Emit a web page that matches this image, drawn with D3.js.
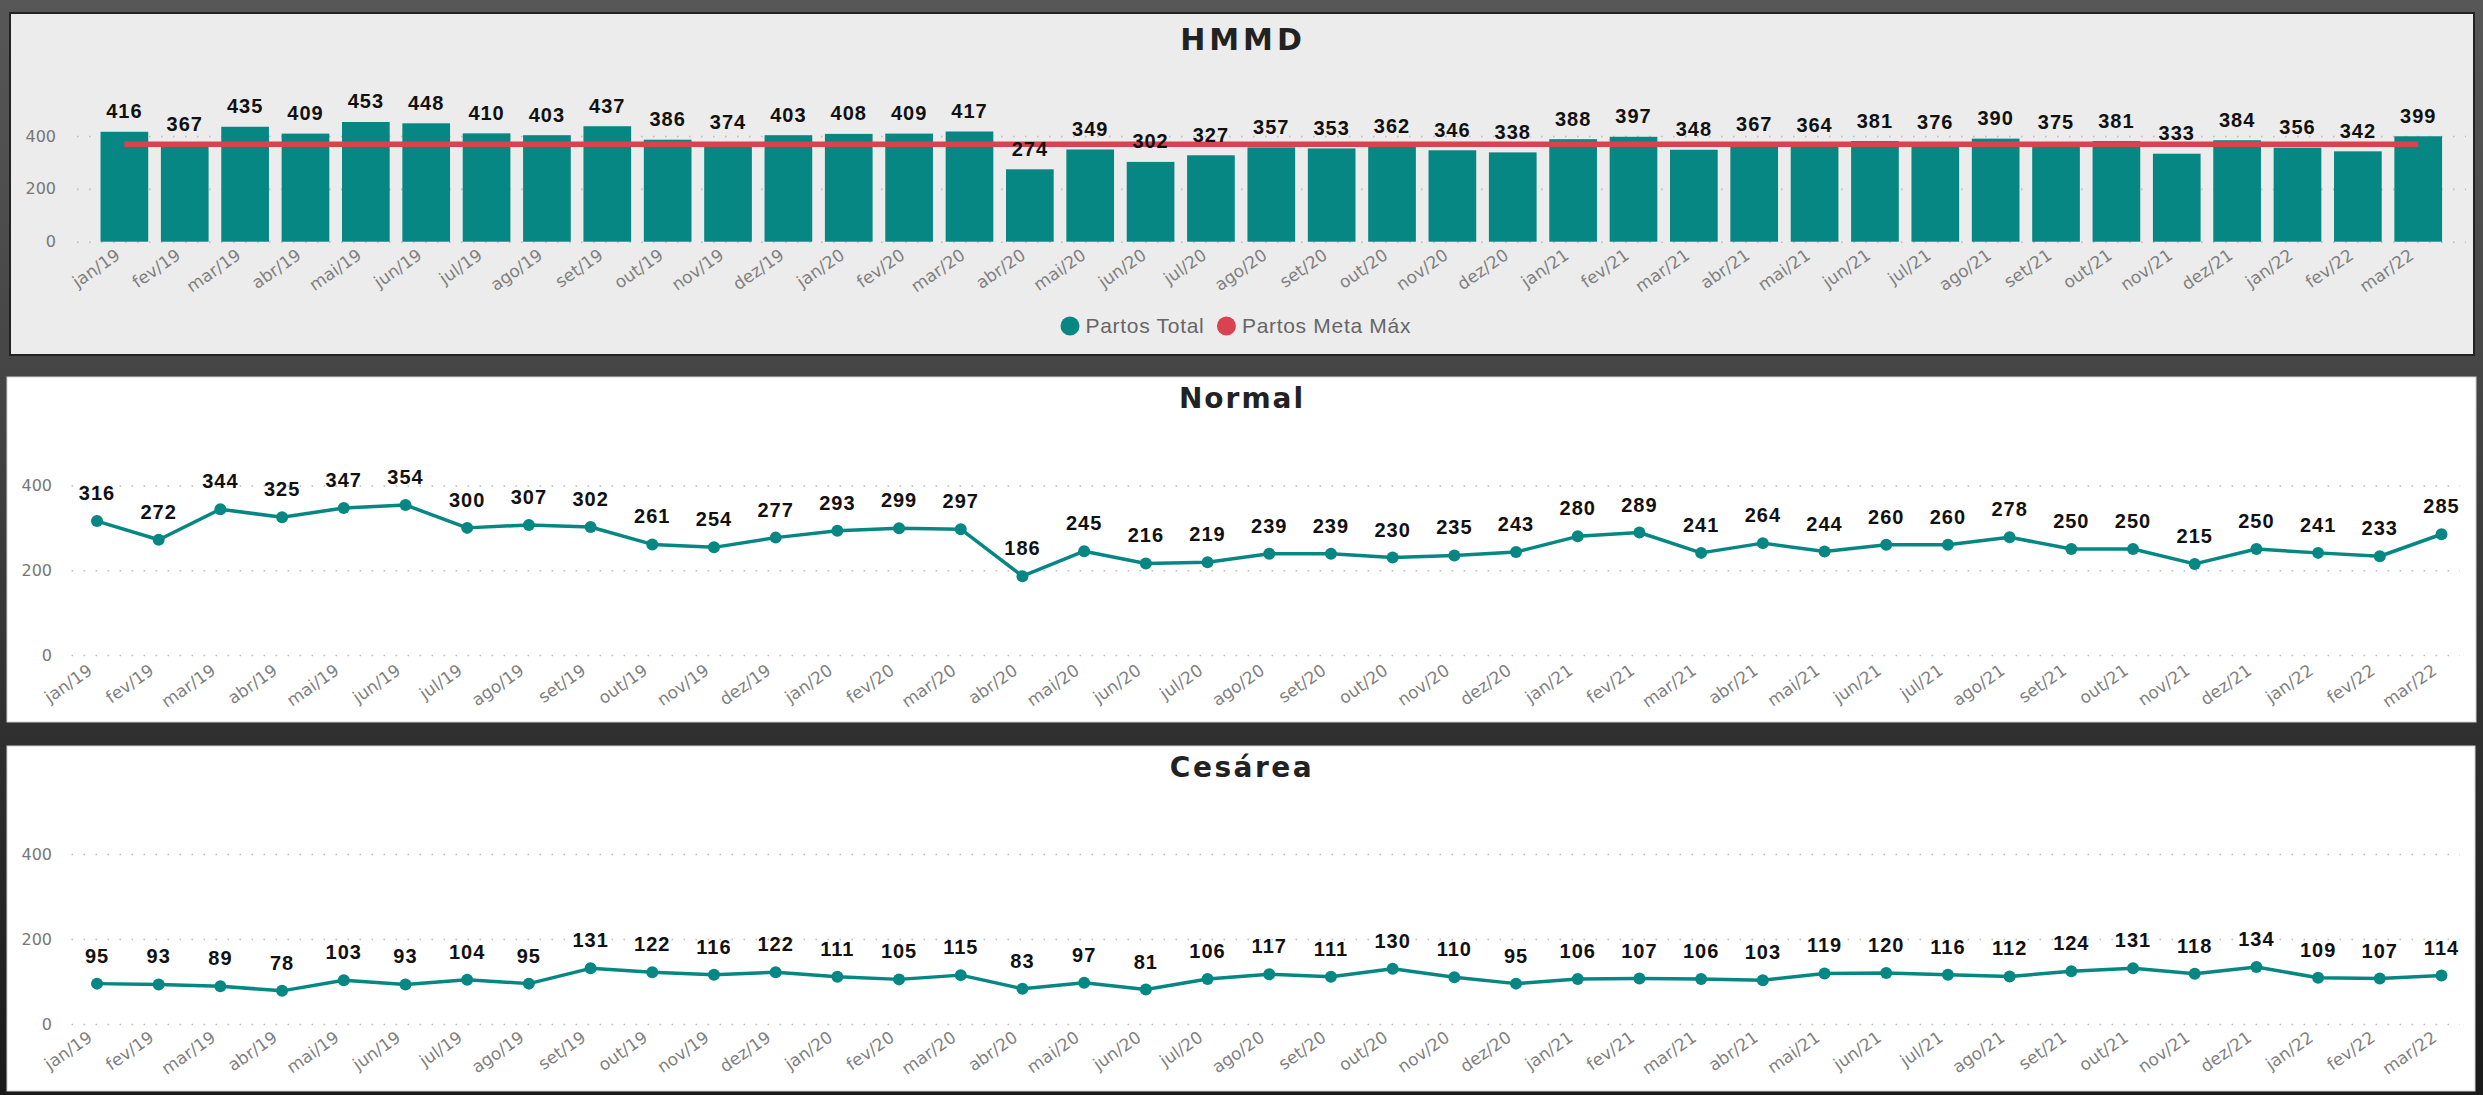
<!DOCTYPE html>
<html>
<head>
<meta charset="utf-8">
<script src="https://cdn.jsdelivr.net/npm/d3@7"></script>
<style>
  html, body { margin: 0; padding: 0; background: #2e2e2e; }
  svg { display: block; }
</style>
</head>
<body>
<script>
// ---------------- DATA ----------------
const months = ["jan/19","fev/19","mar/19","abr/19","mai/19","jun/19","jul/19","ago/19","set/19","out/19","nov/19","dez/19",
                "jan/20","fev/20","mar/20","abr/20","mai/20","jun/20","jul/20","ago/20","set/20","out/20","nov/20","dez/20",
                "jan/21","fev/21","mar/21","abr/21","mai/21","jun/21","jul/21","ago/21","set/21","out/21","nov/21","dez/21",
                "jan/22","fev/22","mar/22"];
const partosTotal = [416,367,435,409,453,448,410,403,437,386,374,403,
                     408,409,417,274,349,302,327,357,353,362,346,338,
                     388,397,348,367,364,381,376,390,375,381,333,384,
                     356,342,399];
const partosMetaMax = [369,369,369,369,369,369,369,369,369,369,369,369,
                       369,369,369,369,369,369,369,369,369,369,369,369,
                       369,369,369,369,369,369,369,369,369,369,369,369,
                       369,369,369];
const partosNormal = [316,272,344,325,347,354,300,307,302,261,254,277,
                      293,299,297,186,245,216,219,239,239,230,235,243,
                      280,289,241,264,244,260,260,278,250,250,215,250,
                      241,233,285];
const partosCesarea = [95,93,89,78,103,93,104,95,131,122,116,122,
                       111,105,115,83,97,81,106,117,111,130,110,95,
                       106,107,106,103,119,120,116,112,124,131,118,134,
                       109,107,114];
const yTicks = [0, 200, 400];
const titles = ["HMMD", "Normal", "Cesárea"];
const legendLabels = ["Partos Total", "Partos Meta Máx"];

// ---------------- STYLE ----------------
const TEAL = "#078783";
const RED = "#d9434f";
const AXIS_FONT = "DejaVu Sans";
const LABEL_FONT = "Liberation Sans";

const W = 2483, H = 1095;
const svg = d3.select("body").append("svg").attr("width", W).attr("height", H);

const defs = svg.append("defs");
const grad = defs.append("linearGradient").attr("id", "bg").attr("x1", 0).attr("y1", 0).attr("x2", 0).attr("y2", 1);
[[0, "#575757"], [0.35, "#454545"], [0.68, "#2f2f2f"], [1, "#1a1a1a"]].forEach(([o, c]) =>
  grad.append("stop").attr("offset", o).attr("stop-color", c));
svg.append("rect").attr("width", W).attr("height", H).attr("fill", "url(#bg)");

// panels
svg.append("rect").attr("x", 10).attr("y", 13).attr("width", 2464).attr("height", 342)
  .attr("fill", "#ececec").attr("stroke", "#222").attr("stroke-width", 2);
svg.append("rect").attr("x", 7).attr("y", 377).attr("width", 2469).attr("height", 345)
  .attr("fill", "#ffffff").attr("stroke", "#cfcfcf").attr("stroke-width", 1);
svg.append("rect").attr("x", 7).attr("y", 746).attr("width", 2468).attr("height", 345)
  .attr("fill", "#ffffff").attr("stroke", "#cfcfcf").attr("stroke-width", 1);

function title(text, cx, baseline, size, spacing) {
  svg.append("text").attr("x", cx).attr("y", baseline)
    .attr("text-anchor", "middle")
    .attr("font-family", AXIS_FONT).attr("font-weight", "bold")
    .attr("font-size", size).attr("letter-spacing", spacing)
    .attr("fill", "#222").text(text);
}

function gridAxis(y, gx0, gx1, pad) {
  const g = svg.append("g").attr("transform", `translate(${gx0},0)`)
    .call(d3.axisLeft(y).tickValues(yTicks).tickSize(-(gx1 - gx0)).tickPadding(pad).tickFormat(d3.format("d")));
  g.select(".domain").remove();
  g.selectAll(".tick line").attr("stroke", "#bdbdbd").attr("stroke-width", 1.6).attr("stroke-dasharray", "1.6,10.4");
  g.selectAll(".tick text").attr("font-family", AXIS_FONT).attr("font-size", 16).attr("fill", "#777");
}

function xAxis(x, y0, dx, dy) {
  const g = svg.append("g").attr("transform", `translate(0,${y0})`)
    .call(d3.axisBottom(x).tickSize(0).tickPadding(0));
  g.select(".domain").remove();
  g.selectAll(".tick text")
    .attr("y", 0).attr("dy", 0)
    .attr("transform", `translate(${dx},${dy}) rotate(-35)`)
    .attr("text-anchor", "end")
    .attr("font-family", AXIS_FONT).attr("font-size", 17).attr("fill", "#7f7f7f");
}

function valueLabels(data, xf, yf, off) {
  svg.append("g").selectAll("text").data(data).join("text")
    .attr("x", (d, i) => xf(i))
    .attr("y", d => yf(d) - off)
    .attr("text-anchor", "middle")
    .attr("font-family", LABEL_FONT).attr("font-weight", "bold")
    .attr("font-size", 20).attr("letter-spacing", 1)
    .attr("fill", "#111").text(d => d);
}

// ---------------- PANEL 1 : HMMD (bars + meta line) ----------------
{
  const y = d3.scaleLinear().domain([0, 400]).range([241.7, 136]);
  const x = d3.scaleBand().domain(months).range([94.2, 2448.4]).paddingInner(0.21).paddingOuter(0.105);
  title(titles[0], 1243, 50, 30, 4);
  gridAxis(y, 77, 2466, 21);
  svg.append("g").selectAll("rect").data(partosTotal).join("rect")
    .attr("x", (d, i) => x(months[i]))
    .attr("y", d => y(d))
    .attr("width", x.bandwidth())
    .attr("height", d => y(0) - y(d))
    .attr("fill", TEAL);
  const line = d3.line().x((d, i) => x(months[i]) + x.bandwidth() / 2).y(d => y(d));
  svg.append("path").datum(partosMetaMax).attr("d", line)
    .attr("fill", "none").attr("stroke", RED).attr("stroke-width", 5.5);
  valueLabels(partosTotal, i => x(months[i]) + x.bandwidth() / 2, y, 13.5);
  xAxis(x, y(0), -3, 16);

  // legend
  const lg = svg.append("g");
  const colors = [TEAL, RED];
  let cx = 1070;
  legendLabels.forEach((lab, i) => {
    lg.append("circle").attr("cx", cx).attr("cy", 326).attr("r", 9.5).attr("fill", colors[i]);
    const t = lg.append("text").attr("x", cx + 15.5).attr("y", 332.5)
      .attr("font-family", LABEL_FONT).attr("font-size", 21).attr("letter-spacing", 0.7)
      .attr("fill", "#666").text(lab);
    cx = cx + 15.5 + t.node().getComputedTextLength() + 22;
  });
}

// ---------------- PANELS 2 & 3 : Normal / Cesárea ----------------
function linePanel(data, ttl, titleBase, titleSize, titleSpacing, y0, y400, xAxisDy) {
  const y = d3.scaleLinear().domain([0, 400]).range([y0, y400]);
  const x = d3.scalePoint().domain(months).range([97, 2441.5]);
  title(ttl, 1242, titleBase, titleSize, titleSpacing);
  gridAxis(y, 71.5, 2460, 19.5);
  const line = d3.line().x((d, i) => x(months[i])).y(d => y(d));
  svg.append("path").datum(data).attr("d", line)
    .attr("fill", "none").attr("stroke", TEAL).attr("stroke-width", 3.5).attr("stroke-linejoin", "round");
  svg.append("g").selectAll("circle").data(data).join("circle")
    .attr("cx", (d, i) => x(months[i])).attr("cy", d => y(d)).attr("r", 6).attr("fill", TEAL);
  valueLabels(data, i => x(months[i]), y, 21);
  xAxis(x, y0, -4, xAxisDy);
}
linePanel(partosNormal, titles[1], 408, 28, 2, 655, 485.5, 18);
linePanel(partosCesarea, titles[2], 777, 28, 2.5, 1024, 854, 16);
</script>
</body>
</html>
